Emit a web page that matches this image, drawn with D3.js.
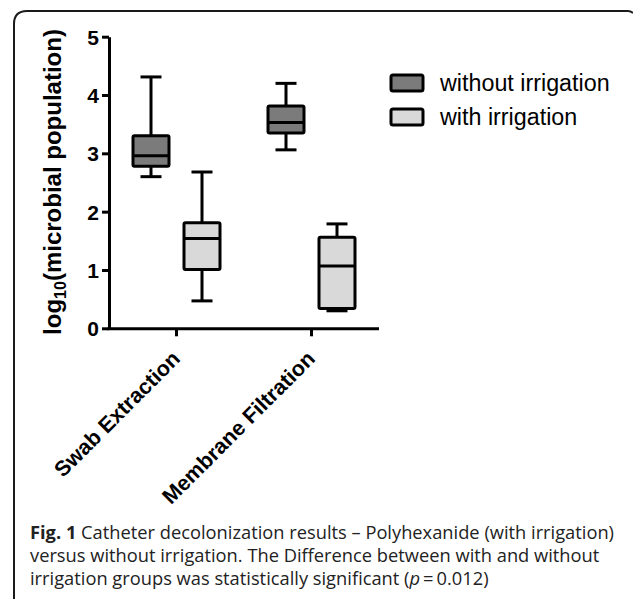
<!DOCTYPE html>
<html lang="en">
<head>
    <meta charset="UTF-8">
    <title>Catheter decolonization results</title>
    <style>
        body { margin: 0; background: #fff; }
        svg { display: block; }
    </style>
</head>
<body>
    <div class="chart"></div>

    <script src="https://d3js.org/d3.v7.min.js"></script>
    <script>
        var width = 633
        var height = 599

        // data
        var categories = ["Swab Extraction", "Membrane Filtration"]
        var series = ["without irrigation", "with irrigation"]
        var yTicks = [0, 1, 2, 3, 4, 5]

        var withoutMin    = [2.60, 3.06]
        var withoutQ1     = [2.78, 3.35]
        var withoutMedian = [2.96, 3.53]
        var withoutQ3     = [3.30, 3.81]
        var withoutMax    = [4.31, 4.20]

        var withMin    = [0.47, 0.30]
        var withQ1     = [1.01, 0.34]
        var withMedian = [1.54, 1.07]
        var withQ3     = [1.81, 1.56]
        var withMax    = [2.68, 1.79]

        var colors = ["#7b7b7b", "#d9d9d9"]

        var captionLines = [
            [{t: "Fig. 1", b: true}, {t: " Catheter decolonization results \u2013 Polyhexanide (with irrigation)"}],
            [{t: "versus without irrigation. The Difference between with and without"}],
            [{t: "irrigation groups was statistically significant ("}, {t: "p", i: true}, {t: "\u2009=\u20090.012)"}]
        ]

        // build box records from the arrays
        var boxes = []
        categories.forEach(function(c, i) {
            boxes.push({cat: c, s: series[0], min: withoutMin[i], q1: withoutQ1[i], med: withoutMedian[i], q3: withoutQ3[i], max: withoutMax[i]})
            boxes.push({cat: c, s: series[1], min: withMin[i], q1: withQ1[i], med: withMedian[i], q3: withQ3[i], max: withMax[i]})
        })

        var svg = d3.select(".chart").append("svg")
            .attr("width", width)
            .attr("height", height)

        // frame around the figure (only top and left visible)
        svg.append("path")
            .attr("d", "M14,599 V24 Q14,11 27,11 H628 Q631,11 633,13")
            .attr("fill", "none")
            .attr("stroke", "#1a1a1a")
            .attr("stroke-width", 2)

        var x = d3.scaleBand().domain(categories).range([109, 379])
        var offset = d3.scalePoint().domain(series).range([-25.5, 25.5])
        var y = d3.scaleLinear().domain([0, 5]).range([328.3, 36.7])
        var color = d3.scaleOrdinal().domain(series).range(colors)
        var boxW = 36, capW = 21

        var font = "'Liberation Sans', Arial, sans-serif"

        // y axis
        var yAxis = svg.append("g")
            .attr("transform", "translate(109,0)")
            .call(d3.axisLeft(y).tickValues(yTicks).tickFormat(d3.format("d")).tickSize(7).tickSizeOuter(0).tickPadding(3))
        yAxis.selectAll("path, line").attr("stroke", "#000").attr("stroke-width", 3)
        yAxis.selectAll("text")
            .attr("font-family", font).attr("font-weight", "bold").attr("font-size", 21).attr("fill", "#000")
            .attr("dy", "0.36em")

        // x axis
        var xAxis = svg.append("g")
            .attr("transform", "translate(0," + y(0) + ")")
            .call(d3.axisBottom(x).tickSize(8).tickSizeOuter(0))
        xAxis.select(".domain").attr("d", "M107.5,0.5H379").attr("stroke", "#000").attr("stroke-width", 3)
        xAxis.selectAll("line").attr("stroke", "#000").attr("stroke-width", 3)
        xAxis.selectAll("text")
            .attr("font-family", font).attr("font-weight", "bold").attr("font-size", 21.5).attr("fill", "#000")
            .attr("text-anchor", "end")
            .attr("dy", 0)
            .attr("transform", "translate(-3,24) rotate(-45)")

        // y title with subscript
        var title = svg.append("text")
            .attr("transform", "translate(61,182) rotate(-90)")
            .attr("text-anchor", "middle")
            .attr("font-family", font).attr("font-weight", "bold").attr("font-size", 24)
        title.append("tspan").text("log")
        title.append("tspan").attr("font-size", 16).attr("dy", 5).text("10")
        title.append("tspan").attr("dy", -5).text("(microbial population)")

        // boxes
        var g = svg.selectAll(".box")
            .data(boxes)
            .enter().append("g")
            .attr("class", "box")
            .attr("transform", function(d) { return "translate(" + (x(d.cat) + x.bandwidth() / 2 + offset(d.s)) + ",0)" })

        g.append("line")
            .attr("y1", function(d) { return y(d.max) }).attr("y2", function(d) { return y(d.min) })
            .attr("stroke", "#000").attr("stroke-width", 3)
        g.append("line").attr("x1", -capW / 2).attr("x2", capW / 2)
            .attr("y1", function(d) { return y(d.max) }).attr("y2", function(d) { return y(d.max) })
            .attr("stroke", "#000").attr("stroke-width", 3)
        g.append("line").attr("x1", -capW / 2).attr("x2", capW / 2)
            .attr("y1", function(d) { return y(d.min) }).attr("y2", function(d) { return y(d.min) })
            .attr("stroke", "#000").attr("stroke-width", 3)
        g.append("rect")
            .attr("x", -boxW / 2).attr("width", boxW)
            .attr("y", function(d) { return y(d.q3) })
            .attr("height", function(d) { return y(d.q1) - y(d.q3) })
            .attr("rx", 1.5)
            .attr("fill", function(d) { return color(d.s) })
            .attr("stroke", "#000").attr("stroke-width", 3)
        g.append("line").attr("x1", -boxW / 2).attr("x2", boxW / 2)
            .attr("y1", function(d) { return y(d.med) }).attr("y2", function(d) { return y(d.med) })
            .attr("stroke", "#000").attr("stroke-width", 3)

        // legend
        var legend = svg.selectAll(".legend")
            .data(series)
            .enter().append("g")
            .attr("class", "legend")
            .attr("transform", function(d, i) { return "translate(391," + (75 + i * 34) + ")" })
        legend.append("rect")
            .attr("width", 32).attr("height", 16).attr("rx", 2)
            .attr("fill", function(d) { return color(d) })
            .attr("stroke", "#000").attr("stroke-width", 3)
        legend.append("text")
            .attr("x", 49).attr("y", 15.5)
            .attr("font-family", font).attr("font-size", 23.3)
            .text(function(d) { return d })

        // caption
        var cap = svg.append("text")
            .attr("font-family", "'Open Sans', 'Noto Sans', sans-serif")
            .attr("font-size", 18.3)
            .attr("fill", "#222")
        captionLines.forEach(function(line, i) {
            var first = true
            line.forEach(function(part) {
                var ts = cap.append("tspan").text(part.t)
                if (first) { ts.attr("x", 30).attr("y", 539 + i * 23); first = false }
                if (part.b) ts.attr("font-weight", "bold")
                if (part.i) ts.attr("font-style", "italic")
            })
        })
    </script>
</body>
</html>
